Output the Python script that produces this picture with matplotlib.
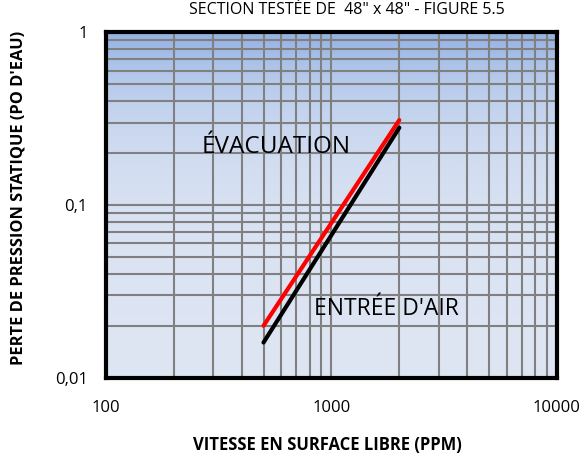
import numpy as np
import matplotlib
matplotlib.use("Agg")
import matplotlib.pyplot as plt
from matplotlib.ticker import FixedLocator, NullFormatter
from matplotlib.colors import LinearSegmentedColormap

plt.rcParams['font.family'] = ['Open Sans', 'DejaVu Sans']

# Data
exhaust_x = [500, 2000]
exhaust_y = [0.020, 0.31]
intake_x = [500, 2000]
intake_y = [0.016, 0.28]
x_ticks = [100, 1000, 10000]
x_tick_labels = ["100", "1000", "10000"]
y_ticks = [0.01, 0.1, 1]
y_tick_labels = ["0,01", "0,1", "1"]

fig = plt.figure(figsize=(5.85, 4.53), dpi=100)
ax = fig.add_axes([0.181, 0.166, 0.771, 0.763])
ax.set_xscale('log')
ax.set_yscale('log')

# gradient background
cmap = LinearSegmentedColormap.from_list('g', [(0.87, 0.90, 0.955), (0.57, 0.69, 0.89)])
grad = np.linspace(0, 1, 256).reshape(-1, 1)
ax.imshow(grad, extent=[100, 10000, 0.01, 1], origin='lower', aspect='auto',
          cmap=cmap, zorder=0)
ax.set_xlim(100, 10000)
ax.set_ylim(0.01, 1)

# grid
minor_x = [m * 10**e for e in (2, 3) for m in range(1, 10)][1:]
minor_y = [m * 10**e for e in (-2, -1) for m in range(1, 10)][1:]
for v in minor_x:
    ax.axvline(v, color='#808080', lw=1.5, zorder=1)
for v in minor_y:
    ax.axhline(v, color='#808080', lw=1.5, zorder=1)

ax.plot(exhaust_x, exhaust_y, color='#ff0000', lw=3, solid_capstyle='round', zorder=3)
ax.plot(intake_x, intake_y, color='black', lw=3, solid_capstyle='round', zorder=3)

ax.text(570, 0.216, "ÉVACUATION", fontsize=17.5, ha='center', va='center', zorder=4)
ax.text(1755, 0.025, "ENTRÉE D'AIR", fontsize=16.5, ha='center', va='center', zorder=4)

ax.xaxis.set_major_locator(FixedLocator(x_ticks))
ax.set_xticklabels(x_tick_labels)
ax.xaxis.set_minor_formatter(NullFormatter())
ax.yaxis.set_major_locator(FixedLocator(y_ticks))
ax.set_yticklabels(y_tick_labels)
ax.yaxis.set_minor_formatter(NullFormatter())
ax.tick_params(which='both', length=0, labelsize=12)
ax.tick_params(axis='x', pad=16)
ax.tick_params(axis='y', pad=13)

for s in ax.spines.values():
    s.set_linewidth(3)
    s.set_color('black')
    s.set_zorder(5)

fig.text(0.559, 0.018, "VITESSE EN SURFACE LIBRE (PPM)", fontsize=12,
         fontweight='bold', ha='center', va='center')
fig.text(0.031, 0.563, "PERTE DE PRESSION STATIQUE (PO D'EAU)", fontsize=11.8,
         fontweight='bold', ha='center', va='center', rotation=90)
fig.text(0.593, 0.977, 'SECTION TESTÉE DE  48" x 48" - FIGURE 5.5', fontsize=11.5,
         ha='center', va='center')

fig.savefig("out.png", dpi=100)
